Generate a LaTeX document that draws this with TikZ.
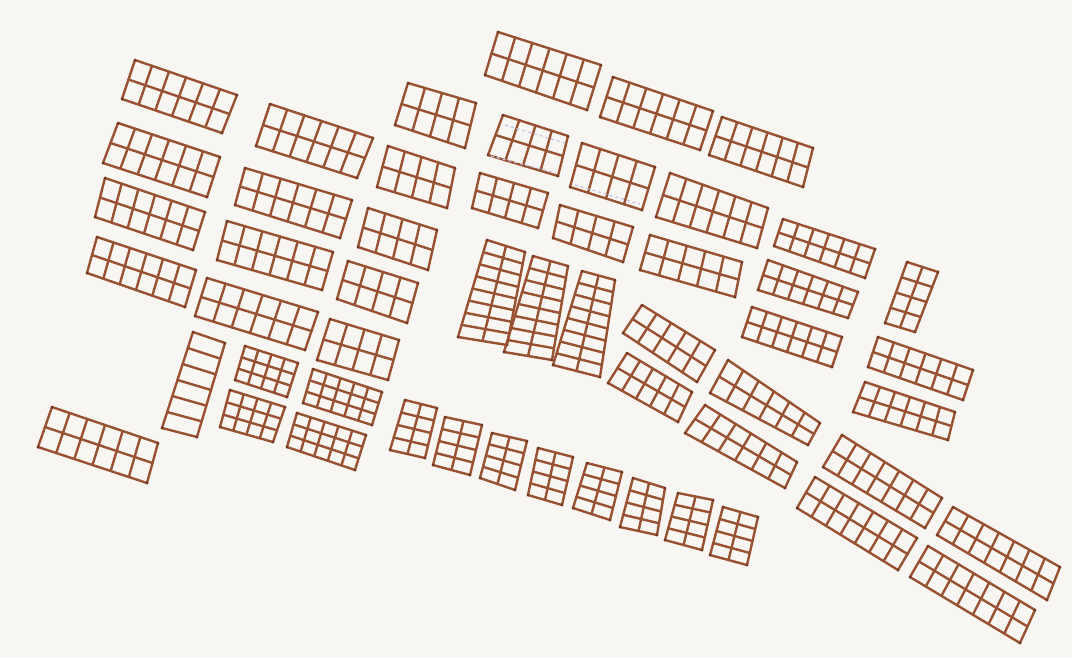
\documentclass[tikz,border=0pt]{standalone}
\usetikzlibrary{calc}
\definecolor{ink}{RGB}{152,82,50}
\definecolor{inkdark}{RGB}{110,55,35}
\definecolor{paper}{RGB}{248,246,243}
\definecolor{pale}{RGB}{196,192,226}
\tikzset{gridline/.style={draw=ink,line width=2.4pt,line cap=round,line join=round},
  faint/.style={draw=pale,line width=1.2pt,dashed}}
\newcommand\gridq[6]{%
  \coordinate (p1) at (#1); \coordinate (p2) at (#2);
  \coordinate (p3) at (#3); \coordinate (p4) at (#4);
  \pgfmathtruncatemacro\ncm{#5-1}%
  \pgfmathtruncatemacro\nrm{#6-1}%
  \ifnum\ncm>0
    \foreach \i in {1,...,\ncm}{%
      \pgfmathsetmacro\tt{\i/#5}%
      \draw[gridline] ($(p1)!\tt!(p2)$) -- ($(p4)!\tt!(p3)$);}%
  \fi
  \ifnum\nrm>0
    \foreach \j in {1,...,\nrm}{%
      \pgfmathsetmacro\tt{\j/#6}%
      \draw[gridline] ($(p1)!\tt!(p4)$) -- ($(p2)!\tt!(p3)$);}%
  \fi
  \draw[gridline] (p1)--(p2)--(p3)--(p4)--cycle;
  \foreach \q in {p1,p2,p3,p4}{\fill[inkdark] (\q) circle (1.5pt);}%
}
\begin{document}
\begin{tikzpicture}[x=1pt,y=-1pt]
\fill[paper] (0,0) rectangle (1072,657);
\useasboundingbox (0,0) rectangle (1072,657);
% left column
\gridq{135,60}{237,95}{222,133}{122,99}{6}{2}
\gridq{118,123}{220,157}{207,197}{103,163}{6}{2}
\gridq{105,178}{205,212}{193,250}{95,217}{6}{2}
\gridq{97,237}{196,270}{185,307}{87,273}{6}{2}
% second column
\gridq{270,104}{373,138}{357,178}{256,146}{6}{2}
\gridq{245,168}{352,200}{340,238}{235,205}{6}{2}
\gridq{227,221}{333,252}{322,290}{217,260}{6}{2}
\gridq{207,278}{318,312}{305,350}{195,316}{6}{2}
% third column
\gridq{408,83}{476,103}{465,148}{395,125}{4}{2}
\gridq{388,146}{455,168}{447,208}{377,187}{4}{2}
\gridq{368,208}{437,230}{428,270}{358,247}{4}{2}
\gridq{348,261}{418,283}{407,323}{337,299}{4}{2}
\gridq{330,319}{399,340}{388,380}{317,360}{4}{2}
\gridq{313,369}{382,392}{372,425}{303,403}{5}{3}
\gridq{297,413}{366,435}{355,470}{287,447}{5}{3}
% lower left
\gridq{193,332}{225,343}{197,437}{162,428}{1}{6}
\gridq{245,346}{298,363}{287,397}{235,380}{4}{3}
\gridq{230,390}{285,407}{273,442}{220,427}{4}{3}
\gridq{52,407}{158,443}{147,483}{38,447}{6}{2}
% top middle
\gridq{498,32}{601,65}{587,110}{485,75}{6}{2}
\gridq{613,77}{713,111}{700,150}{600,117}{6}{2}
\gridq{722,117}{813,148}{803,187}{709,155}{6}{2}
\gridq{503,115}{568,136}{558,176}{488,155}{4}{2}
\gridq{582,143}{655,167}{642,210}{570,187}{4}{2}
\gridq{480,173}{548,193}{538,228}{472,208}{4}{2}
\gridq{670,173}{768,208}{757,248}{656,217}{6}{2}
\gridq{560,205}{633,227}{623,262}{553,238}{4}{2}
\gridq{650,235}{742,262}{735,297}{640,270}{5}{2}
% faint marks
\draw[faint] (505,125) -- (565,143);
\draw[faint] (491,156) -- (556,173);
\draw[faint] (575,185) -- (640,204);
% right cluster
\gridq{783,219}{875,249}{865,278}{774,246}{6}{2}
\gridq{768,260}{858,292}{848,318}{758,290}{6}{2}
\gridq{752,307}{842,337}{832,367}{742,337}{6}{2}
\gridq{907,262}{938,272}{915,332}{885,323}{2}{4}
\gridq{878,337}{973,370}{963,400}{868,367}{6}{2}
\gridq{865,382}{955,412}{948,440}{853,412}{6}{2}
% tall ones
\gridq{487,240}{525,252}{507,345}{458,337}{2}{8}
\gridq{533,256}{568,266}{552,360}{504,352}{2}{8}
\gridq{582,271}{615,280}{600,377}{553,365}{2}{8}
% tilted middle
\gridq{642,305}{715,350}{697,382}{623,333}{5}{2}
\gridq{627,353}{692,392}{678,422}{608,383}{5}{2}
\gridq{728,360}{820,423}{808,445}{710,393}{6}{2}
\gridq{705,405}{797,462}{785,488}{685,433}{6}{2}
% bottom right
\gridq{842,435}{942,498}{925,528}{823,467}{7}{2}
\gridq{815,477}{917,538}{898,570}{797,508}{7}{2}
\gridq{953,507}{1060,567}{1047,600}{937,535}{7}{2}
\gridq{928,546}{1035,610}{1020,643}{910,577}{7}{2}
% bottom row of small grids
\gridq{405,400}{437,408}{425,458}{390,450}{2}{4}
\gridq{445,417}{482,425}{470,475}{433,465}{2}{4}
\gridq{492,433}{527,441}{515,490}{480,478}{2}{4}
\gridq{538,448}{573,457}{562,505}{528,495}{2}{4}
\gridq{587,463}{622,472}{610,520}{573,508}{2}{4}
\gridq{633,478}{665,488}{657,535}{620,527}{2}{4}
\gridq{678,493}{713,500}{702,550}{665,540}{2}{4}
\gridq{723,507}{758,517}{747,565}{710,555}{2}{4}
\end{tikzpicture}
\end{document}
